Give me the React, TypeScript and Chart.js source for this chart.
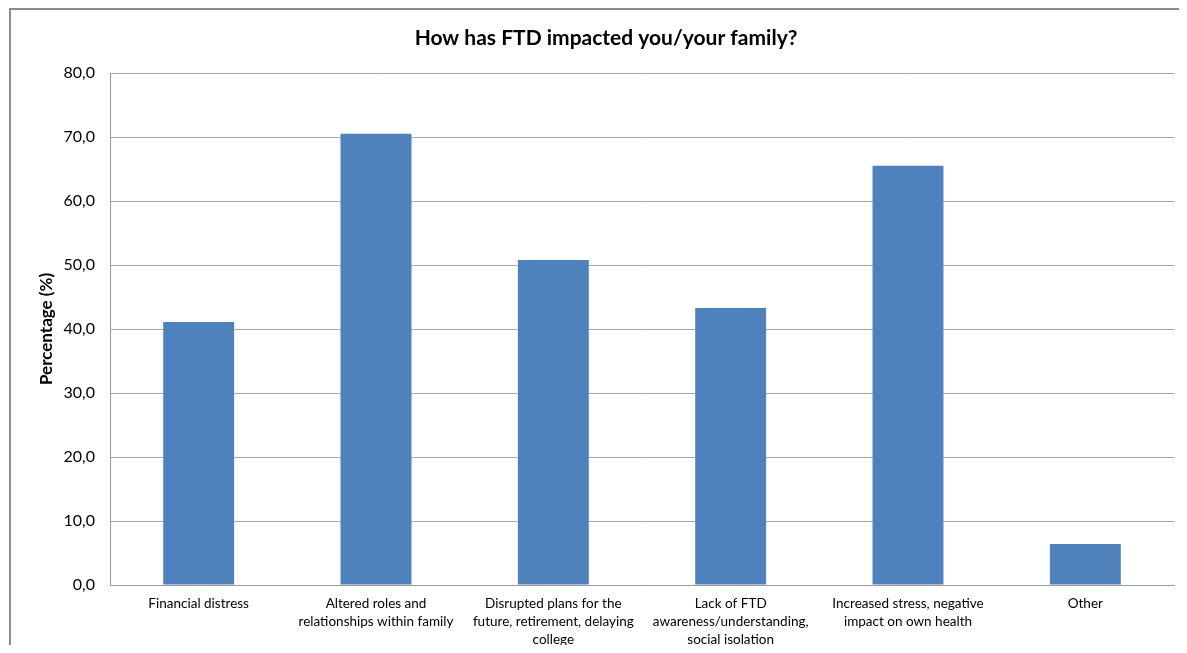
import React, { useEffect, useRef } from "react";
import { Chart, registerables } from "chart.js";

Chart.register(...registerables);

const categories: string[][] = [
  ["Financial distress"],
  ["Altered roles and", "relationships within family"],
  ["Disrupted plans for the", "future, retirement, delaying", "college"],
  ["Lack of FTD", "awareness/understanding,", "social isolation"],
  ["Increased stress, negative", "impact on own health"],
  ["Other"],
];
const percentages: number[] = [41.1, 70.5, 50.8, 43.3, 65.5, 6.4];
const chartTitle = "How has FTD impacted you/your family?";
const yAxisTitle = "Percentage (%)";

const W = 1187;
const H = 653;
const FONT = "Lato, 'Open Sans', sans-serif";

export default function App() {
  const ref = useRef<HTMLCanvasElement | null>(null);
  useEffect(() => {
    if (!ref.current) return;
    const chart = new Chart(ref.current, {
      type: "bar",
      data: {
        labels: categories,
        datasets: [
          {
            data: percentages,
            backgroundColor: "#4f81bd",
            borderWidth: 0,
            categoryPercentage: 1,
            barPercentage: 0.4,
          },
        ],
      },
      options: {
        responsive: false,
        animation: false,
        layout: { padding: { left: 38, top: 0, right: 13, bottom: 0 } },
        plugins: {
          legend: { display: false },
          tooltip: { enabled: false },
          title: {
            display: true,
            text: chartTitle,
            color: "#000",
            font: { family: FONT, size: 21, weight: "bold", lineHeight: 1.2 },
            padding: { top: 25.4, bottom: 22.4 },
          },
        },
        scales: {
          x: {
            grid: { display: false, drawTicks: false },
            border: { display: true, color: "#9a9a9a", width: 1 },
            ticks: {
              color: "#000",
              font: { family: FONT, size: 13.5, lineHeight: 1.33 },
              padding: 10,
              maxRotation: 0,
              autoSkip: false,
            },
            afterFit: (scale: any) => {
              scale.height = 68;
            },
          },
          y: {
            min: 0,
            max: 80,
            grid: { color: "#a6a6a6", drawTicks: false },
            border: { display: true, color: "#9a9a9a", width: 1 },
            ticks: {
              stepSize: 10,
              color: "#000",
              padding: 15,
              font: { family: FONT, size: 16 },
              callback: (v: any) => Number(v).toFixed(1).replace(".", ","),
            },
            title: {
              display: true,
              text: yAxisTitle,
              color: "#000",
              font: { family: FONT, size: 17, weight: "bold", lineHeight: 1 },
              padding: { top: 0, bottom: 0 },
            },
            afterFit: (scale: any) => {
              scale.width = 72;
            },
          },
        },
      },
    });
    return () => chart.destroy();
  }, []);

  return (
    <div style={{ position: "relative", width: W, height: H, overflow: "hidden", background: "#fff", margin: -8 }}>
      <div
        style={{
          position: "absolute",
          left: 9,
          top: 8,
          width: W + 20,
          height: H + 20,
          border: "2px solid #8c8c8c",
          boxSizing: "border-box",
        }}
      />
      <canvas ref={ref} width={W} height={H} style={{ position: "absolute", left: 0, top: 0 }} />
    </div>
  );
}
